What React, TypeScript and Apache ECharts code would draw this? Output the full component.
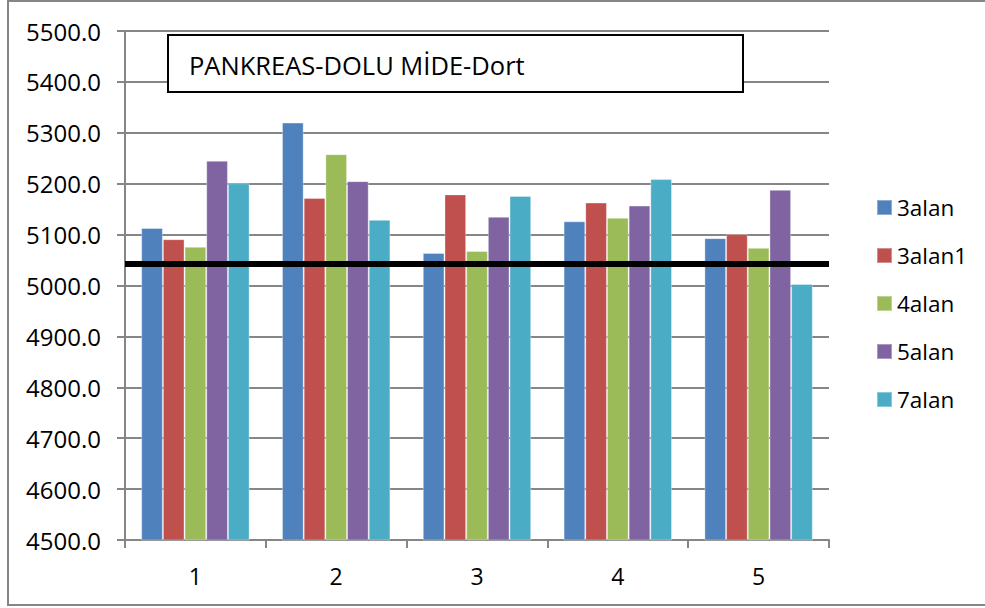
import React, { useEffect, useRef } from "react";
import * as echarts from "echarts";

const categories = ["1", "2", "3", "4", "5"];
const seriesNames = ["3alan", "3alan1", "4alan", "5alan", "7alan"];
const s3alan = [5113, 5320, 5064, 5126, 5093];
const s3alan1 = [5091, 5172, 5179, 5163, 5101];
const s4alan = [5076, 5258, 5068, 5133, 5074];
const s5alan = [5245, 5205, 5135, 5157, 5188];
const s7alan = [5201, 5129, 5176, 5209, 5003];
const referenceLine = 5042;
const titleText = "PANKREAS-DOLU MİDE-Dort";

const colors = ["#4F81BD", "#C0504D", "#9BBB59", "#8064A2", "#4BACC6"];
const FONT = "'Open Sans', 'Noto Sans', sans-serif";

export default function App() {
  const ref = useRef<HTMLDivElement>(null);
  useEffect(() => {
    document.body.style.margin = "0";
    if (!ref.current) return;
    const chart = echarts.init(ref.current, null, { renderer: "svg" });
    const values = [s3alan, s3alan1, s4alan, s5alan, s7alan];
    const series: any[] = seriesNames.map((name, i) => ({
      name,
      type: "bar",
      data: values[i],
      barGap: "0%",
      barCategoryGap: "23%",
      itemStyle: { color: colors[i], borderColor: "rgba(255,255,255,0.35)", borderWidth: 1 },
    }));
    series[0].markLine = {
      silent: true,
      symbol: "none",
      label: { show: false },
      lineStyle: { color: "#000", width: 6, type: "solid" },
      data: [{ yAxis: referenceLine }],
    };
    chart.setOption({
      animation: false,
      backgroundColor: "#fff",
      textStyle: { fontFamily: FONT },
      grid: { left: 125, right: 156, top: 31, bottom: 68 },
      xAxis: {
        type: "category",
        data: categories,
        axisLine: { lineStyle: { color: "#868686", width: 2 } },
        axisTick: { show: true, length: 8, lineStyle: { color: "#868686", width: 2 } },
        axisLabel: { color: "#000", fontSize: 23, margin: 24, fontFamily: FONT },
      },
      yAxis: {
        type: "value",
        min: 4500,
        max: 5500,
        interval: 100,
        axisLine: { show: true, lineStyle: { color: "#868686", width: 2 } },
        axisTick: { show: true, length: 8, lineStyle: { color: "#868686", width: 2 } },
        axisLabel: {
          color: "#000",
          fontSize: 24,
          margin: 24,
          fontFamily: FONT,
          formatter: (v: number) => v.toFixed(1),
        },
        splitLine: { lineStyle: { color: "#868686", width: 2 } },
      },
      legend: {
        orient: "vertical",
        left: 871,
        top: 191,
        itemWidth: 15,
        itemHeight: 15,
        itemGap: 25,
        icon: "rect",
        data: seriesNames,
        textStyle: { color: "#000", fontSize: 22.5, lineHeight: 22, fontFamily: FONT },
      },
      graphic: [
        {
          type: "rect",
          shape: { x: 8, y: 1, width: 1000, height: 604 },
          style: { fill: "none", stroke: "#868686", lineWidth: 2 },
          silent: true,
          z: 100,
        },
        {
          type: "rect",
          shape: { x: 168, y: 35, width: 575, height: 57 },
          style: { fill: "#fff", stroke: "#000", lineWidth: 2 },
          z: 100,
        },
        {
          type: "text",
          x: 189,
          y: 65,
          style: {
            text: titleText,
            fontSize: 25.5,
            fontFamily: FONT,
            fill: "#000",
            verticalAlign: "middle",
          },
          z: 101,
        },
      ],
      series,
    });
    return () => chart.dispose();
  }, []);
  return <div ref={ref} style={{ width: 985, height: 608 }} />;
}
